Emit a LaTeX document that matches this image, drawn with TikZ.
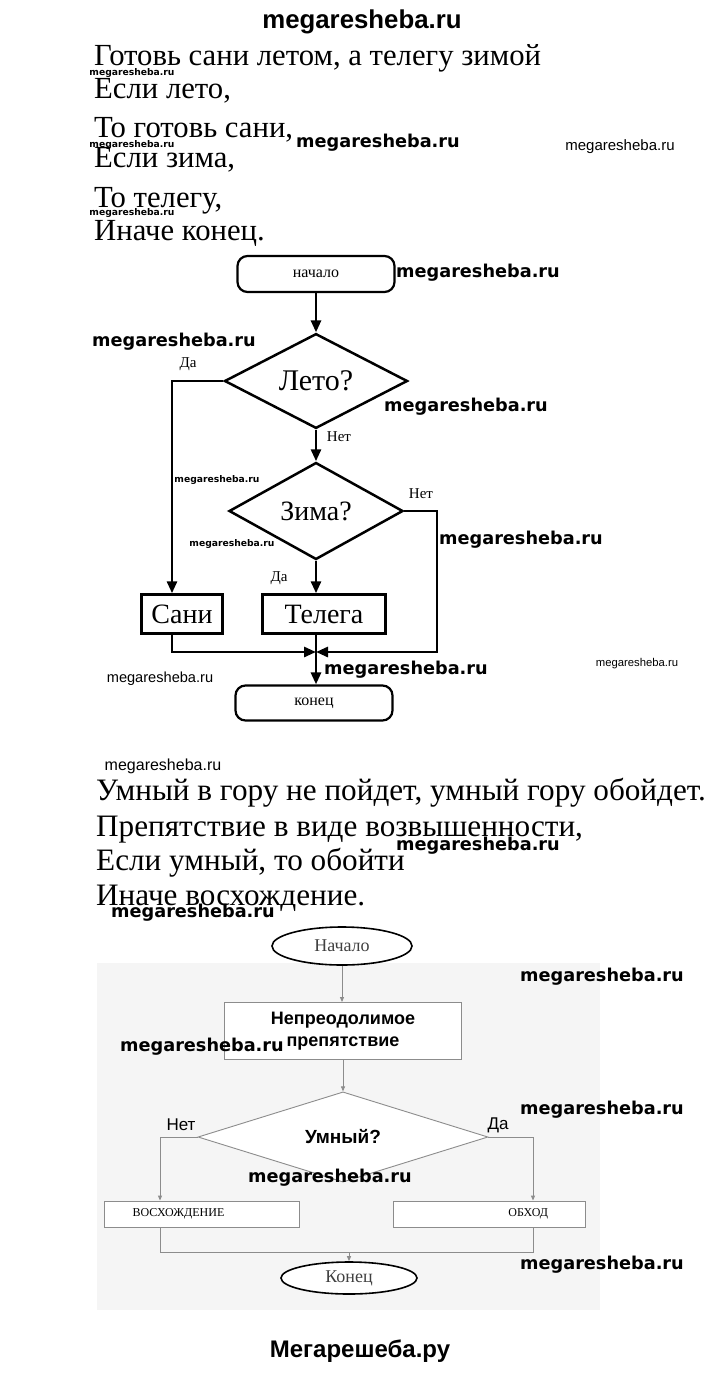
\documentclass[tikz,border=0pt]{standalone}
\usepackage{fontspec}
\setmainfont{Liberation Serif}
\newfontfamily\heavysans{DejaVu Sans}
\newfontfamily\plainsans{Liberation Sans}
\usetikzlibrary{arrows.meta,shapes.geometric}

\begin{document}
\begin{tikzpicture}[
  x=1pt, y=-1pt,
  verse/.style={anchor=base west, inner sep=0pt, font=\fontsize{#1}{#1}\selectfont},
  wm/.style={inner sep=0pt, font=\heavysans\bfseries\fontsize{17.7}{18}\selectfont},
  wmsmall/.style={inner sep=0pt, font=\heavysans\bfseries\fontsize{9.2}{10}\selectfont},
  wmthin/.style={inner sep=0pt, font=\plainsans\fontsize{#1}{#1}\selectfont},
  brand/.style={anchor=base, inner sep=0pt, font=\plainsans\bfseries\fontsize{#1}{#1}\selectfont},
  term/.style={draw, line width=2.2pt, rounded corners=10pt, minimum width=157pt,
    minimum height=36pt, inner sep=0pt, font=\fontsize{16}{16}\selectfont},
  cond/.style={draw, diamond, line width=2.5pt, inner sep=0pt, font=\fontsize{30}{30}\selectfont},
  act/.style={draw, line width=2.5pt, minimum height=39pt, inner sep=0pt, font=\fontsize{28}{28}\selectfont},
  flow/.style={line width=2.8pt, -{Triangle[length=12pt,width=10pt]}},
  tag/.style={inner sep=0pt, font=\fontsize{15}{15}\selectfont},
  oval/.style={draw, ellipse, line width=1.6pt, fill=white, inner sep=0pt, minimum width=140pt,
    minimum height=38pt, text=black!75, font=\fontsize{18}{18}\selectfont},
  box/.style={draw=black!45, line width=0.9pt, fill=white, inner sep=0pt},
  thin/.style={draw=black!45, line width=0.9pt},
  thinflow/.style={thin, -{Triangle[length=5pt,width=4pt]}},
  sanstag/.style={inner sep=0pt, font=\plainsans\fontsize{17}{17}\selectfont}
]
\useasboundingbox (0,0) rectangle (720,1373);

% first proverb
\node[verse=30.7] (p1) at (94,65) {Готовь сани летом, а телегу зимой};
\node[verse=30.7] (p2) at (94,98) {Если лето,};
\node[verse=30.7] (p3) at (94,137) {То готовь сани,};
\node[verse=30.7] (p4) at (94,167) {Если зима,};
\node[verse=30.7] (p5) at (94,207) {То телегу,};
\node[verse=30.7] (p6) at (94,240) {Иначе конец.};

% first flowchart
\node[term] (start) at (316,274) {начало};
\node[cond, minimum width=183pt, minimum height=91pt] (leto) at (316,381) {Лето?};
\node[cond, minimum width=174pt, minimum height=97pt, font=\fontsize{28}{28}\selectfont] (zima) at (316,511) {Зима?};
\node[act, minimum width=81pt] (sani) at (182,614) {Сани};
\node[act, minimum width=123pt] (telega) at (324,614) {Телега};
\node[term, minimum height=35pt] (konec) at (314,703) {конец};
\coordinate (dacol) at (172,381);
\coordinate (netcol) at (437,511);
\coordinate (join) at (316,652);

\draw[flow] (start) -- (leto);
\draw[flow] (leto) -- (zima);
\draw[flow] (leto.west) -| (dacol |- sani.north);
\draw[flow] (zima) -- (zima.south |- telega.north);
\draw[flow] (dacol |- sani.south) |- (join);
\draw[flow] (zima.east) -| (netcol |- join) -- (join);
\draw[flow] (join |- telega.south) -- (join |- konec.north);

\node[tag] (da1) at (188,364) {Да};
\node[tag] (net1) at (339,437) {Нет};
\node[tag] (net2) at (421,494) {Нет};
\node[tag] (da2) at (279,578) {Да};

% second proverb
\node[verse=31.2] (q1) at (96,800) {Умный в гору не пойдет, умный гору обойдет.};
\node[verse=31.2] (q2) at (96,836) {Препятствие в виде возвышенности,};
\node[verse=31.2] (q3) at (96,870) {Если умный, то обойти};
\node[verse=31.2] (q4) at (96,905) {Иначе восхождение.};

% second flowchart
\node[fill=black!4, minimum width=503pt, minimum height=347pt, inner sep=0pt] (panel) at (348.5,1136.5) {};
\node[oval] (nachalo) at (342,946) {Начало};
\node[box, minimum width=237pt, minimum height=57pt, align=center,
  font=\plainsans\bfseries\fontsize{18}{22}\selectfont] (prep) at (343,1031) {Непреодолимое\\препятствие};
\node[box, diamond, minimum width=290pt, minimum height=62pt,
  font=\plainsans\bfseries\fontsize{19}{19}\selectfont] (umn) at (343,1137) {Умный?};
\node[box, minimum width=195pt, minimum height=26pt, text width=139pt, align=left,
  font=\fontsize{12}{12}\selectfont] (vosh) at (202,1214) {ВОСХОЖДЕНИЕ};
\node[box, minimum width=192pt, minimum height=26pt, text width=118pt, align=right,
  font=\fontsize{12}{12}\selectfont] (obhod) at (489,1214) {ОБХОД};
\node[oval, minimum width=136pt, minimum height=32pt] (konec2) at (349,1278) {Конец};
\coordinate (lcol) at (160,1137);
\coordinate (rcol) at (533,1137);
\coordinate (merge) at (349,1252);

\draw[thinflow] (nachalo) -- (nachalo |- prep.north);
\draw[thinflow] (prep) -- (prep |- umn.north);
\draw[thinflow] (umn.west) -| (lcol |- vosh.north);
\draw[thinflow] (umn.east) -| (rcol |- obhod.north);
\draw[thin] (lcol |- vosh.south) |- (merge) -| (rcol |- obhod.south);
\draw[thinflow] (merge) -- (konec2);

\node[sanstag] (net3) at (181,1125) {Нет};
\node[sanstag] (da3) at (498,1125) {Да};

% watermarks
\node[brand=25.8] (wm1) at (362,28) {megaresheba.ru};
\node[wmsmall] (wm2) at (132,73) {megaresheba.ru};
\node[wm] (wm3) at (378,143) {megaresheba.ru};
\node[wmsmall] (wm4) at (132,145) {megaresheba.ru};
\node[wmthin=15] (wm5) at (620,147) {megaresheba.ru};
\node[wmsmall] (wm6) at (132,213) {megaresheba.ru};
\node[wm] (wm7) at (478,273) {megaresheba.ru};
\node[wm] (wm8) at (174,342) {megaresheba.ru};
\node[wm] (wm9) at (466,407) {megaresheba.ru};
\node[wmsmall] (wm10) at (217,480) {megaresheba.ru};
\node[wmsmall] (wm11) at (232,544) {megaresheba.ru};
\node[wm] (wm12) at (521,540) {megaresheba.ru};
\node[wmthin=11.3] (wm13) at (637,664) {megaresheba.ru};
\node[wmthin=14.6] (wm14) at (160,679) {megaresheba.ru};
\node[wm] (wm15) at (406,670) {megaresheba.ru};
\node[wmthin=16] (wm16) at (163,766) {megaresheba.ru};
\node[wm] (wm17) at (478,846) {megaresheba.ru};
\node[wm] (wm18) at (193,913) {megaresheba.ru};
\node[wm] (wm19) at (602,977) {megaresheba.ru};
\node[wm] (wm20) at (202,1047) {megaresheba.ru};
\node[wm] (wm21) at (602,1110) {megaresheba.ru};
\node[wm] (wm22) at (330,1178) {megaresheba.ru};
\node[wm] (wm23) at (602,1265) {megaresheba.ru};
\node[brand=24] (wm24) at (360,1357) {Мегарешеба.ру};
\end{tikzpicture}
\end{document}
